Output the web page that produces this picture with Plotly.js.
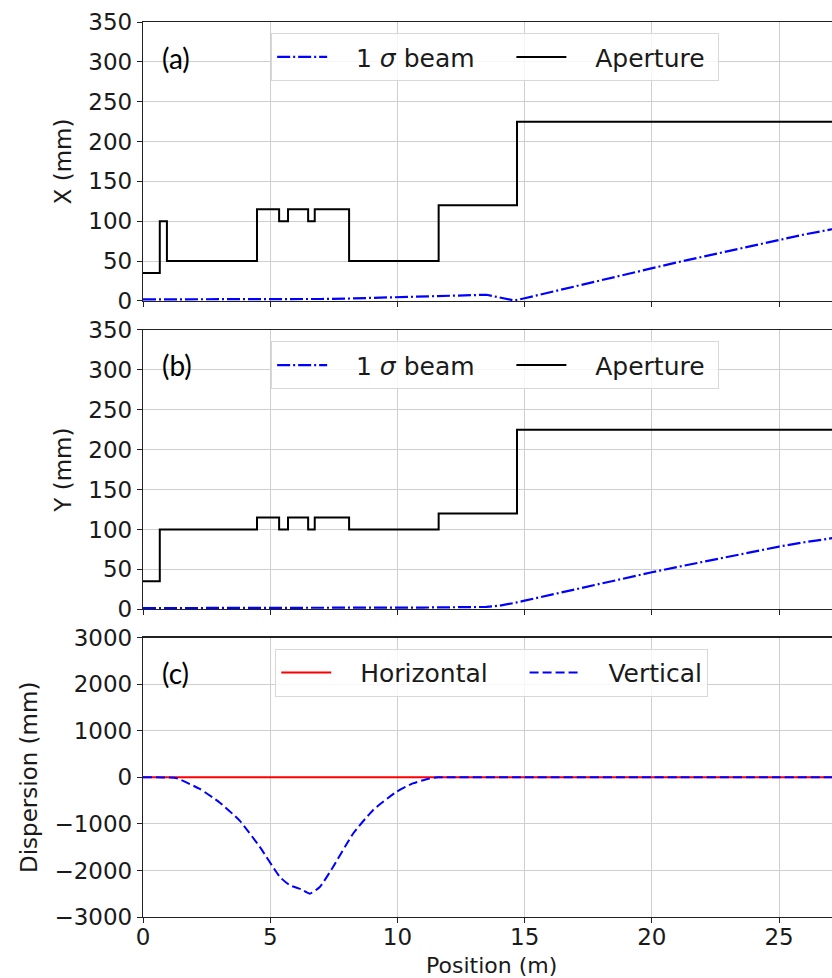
<!DOCTYPE html>
<html>
<head>
<meta charset="utf-8">
<script src="https://cdn.plot.ly/plotly-3.0.1.min.js"></script>
<style>
html,body{margin:0;padding:0;background:#fff;overflow:hidden;}
#chart{width:832px;height:978px;}
</style>
</head>
<body>
<div id="chart"></div>
<script>
// Aperture step positions (m) and half-apertures (mm)
const aperturePos = [0, 0.66, 0.94, 4.48, 5.35, 5.70, 6.49, 6.75, 8.10, 11.62, 14.70, 27.5];
const apertureX   = [35, 100, 50, 115, 100, 115, 100, 115, 50, 120, 225, 225];
const apertureY   = [35, 100, 100, 115, 100, 115, 100, 115, 100, 120, 225, 225];

// 1 sigma beam envelope
const beamPos = [0, 2, 4, 5, 6, 7, 8, 9, 10, 11, 12, 13, 13.5, 14, 14.3, 14.6, 15, 16, 17, 18, 19, 20, 21, 22, 23, 24, 25, 26, 27, 27.5];
const beamX   = [2, 2, 1.8, 1.8, 2, 2.5, 3, 3.8, 4.5, 5.3, 6.3, 7.5, 7.8, 4.5, 2.5, 0.5, 3.4, 11, 18.5, 26, 33.5, 41, 48.5, 55.5, 62.5, 70, 77, 83.5, 89.5, 92.5];
const beamY   = [1.5, 1.5, 1.5, 1.5, 1.5, 1.5, 1.7, 1.8, 2, 2.2, 2.5, 2.8, 3, 4.5, 6, 8, 10.8, 18, 25, 32, 39, 46.4, 53, 59.5, 66, 72.5, 78.6, 84, 88.5, 91];

// Dispersion (mm)
const dispPos  = [0, 0.5, 1, 1.3, 2.23, 3.01, 3.8, 4.59, 5.38, 5.77, 6.2, 6.55, 6.95, 7.47, 8.26, 9.04, 9.96, 10.6, 11.27, 11.6, 15, 20, 25, 27.5];
const dispVert = [0, 0, -5, -15, -250, -540, -930, -1495, -2140, -2318, -2400, -2498, -2355, -1925, -1207, -705, -312, -131, -24, 0, 0, 0, 0, 0];
const dispHorz = [0, 0, 0, 0, 0, 0, 0, 0, 0, 0, 0, 0, 0, 0, 0, 0, 0, 0, 0, 0, 0, 0, 0, 0];

const panelLabels = ['(a)', '(b)', '(c)'];
const yTitles = ['X (mm)', 'Y (mm)', 'Dispersion (mm)'];
const xTitle = 'Position (m)';
const NB = '\u00a0';
const beamName = NB.repeat(3) + '1 <i>σ</i> beam' + NB.repeat(4);
const apertureName = NB.repeat(3) + 'Aperture' + NB;
const horzName = NB.repeat(3) + 'Horizontal' + NB.repeat(4);
const vertName = NB.repeat(3) + 'Vertical';

const FONT = 'DejaVu Sans';
const TXT = '#1a1a1a';
const GRID = '#cfcfcf';
const beamDash = '13px,3px,2px,3px';

const traces = [
  {x: beamPos, y: beamX, xaxis: 'x', yaxis: 'y', mode: 'lines', name: beamName,
   line: {color: '#0000ff', width: 2.2, dash: beamDash}, legend: 'legend'},
  {x: aperturePos, y: apertureX, xaxis: 'x', yaxis: 'y', mode: 'lines', name: apertureName,
   line: {color: '#000000', width: 2, shape: 'hv'}, legend: 'legend'},
  {x: beamPos, y: beamY, xaxis: 'x2', yaxis: 'y2', mode: 'lines', name: beamName,
   line: {color: '#0000ff', width: 2.2, dash: beamDash}, legend: 'legend2'},
  {x: aperturePos, y: apertureY, xaxis: 'x2', yaxis: 'y2', mode: 'lines', name: apertureName,
   line: {color: '#000000', width: 2, shape: 'hv'}, legend: 'legend2'},
  {x: dispPos, y: dispHorz, xaxis: 'x3', yaxis: 'y3', mode: 'lines', name: horzName,
   line: {color: '#ff0000', width: 2}, legend: 'legend3'},
  {x: dispPos, y: dispVert, xaxis: 'x3', yaxis: 'y3', mode: 'lines', name: vertName,
   line: {color: '#0000ff', width: 2, dash: '9px,4px', shape: 'spline', smoothing: 0.5}, legend: 'legend3'}
];

function xax(show, anchor) {
  return {
    anchor: anchor, range: [0, 27.08], dtick: 5, tick0: 0,
    showgrid: true, gridcolor: GRID, gridwidth: 1,
    showline: true, linecolor: '#222', linewidth: 1.2, mirror: true,
    ticks: 'outside', ticklen: 5, tickcolor: '#222', tickwidth: 1,
    showticklabels: show, zeroline: false, ticklabelstandoff: -6,
    tickfont: {family: FONT, size: 23, color: TXT}
  };
}
function yax(range, dtick, dom, title, anchor) {
  return {
    anchor: anchor, domain: dom, range: range, dtick: dtick,
    showgrid: true, gridcolor: GRID, gridwidth: 1,
    showline: true, linecolor: '#222', linewidth: 1.2, mirror: false,
    ticks: 'outside', ticklen: 5, tickcolor: '#222', tickwidth: 1,
    zeroline: false,
    tickfont: {family: FONT, size: 23, color: TXT},
    title: {text: title, font: {family: FONT, size: 23, color: TXT}, standoff: 10}
  };
}

const legendBase = {
  orientation: 'h', xanchor: 'left', yanchor: 'top',
  bgcolor: 'rgba(255,255,255,0.8)', bordercolor: '#d8d8d8', borderwidth: 1,
  font: {family: FONT, size: 25, color: TXT},
  itemwidth: 50, traceorder: 'normal'
};

const layout = {
  width: 832, height: 978,
  margin: {l: 143, r: 0, t: 22, b: 61},
  paper_bgcolor: '#fff', plot_bgcolor: '#fff',
  font: {family: FONT, color: TXT},
  xaxis: xax(false, 'y'),
  xaxis2: xax(false, 'y2'),
  xaxis3: xax(true, 'y3'),
  yaxis: yax([0, 350], 50, [0.6883, 1], yTitles[0], 'x'),
  yaxis2: yax([0, 350], 50, [0.3438, 0.6559], yTitles[1], 'x2'),
  yaxis3: yax([-3000, 3000], 1000, [0, 0.3121], yTitles[2], 'x3'),
  legend: Object.assign({}, legendBase, {x: 0.186, y: 0.9875}),
  legend2: Object.assign({}, legendBase, {x: 0.186, y: 0.6432}),
  legend3: Object.assign({}, legendBase, {x: 0.192, y: 0.2997}),
  annotations: panelLabels.map((t, i) => ({
    text: t, xref: 'paper', yref: 'paper', x: 0.024,
    y: [0.9598, 0.6168, 0.2727][i], xanchor: 'left', yanchor: 'middle', showarrow: false,
    font: {family: 'Lato', size: 28, color: '#000'}
  })).concat([{
    text: xTitle, xref: 'paper', yref: 'paper', x: 0.506, y: -0.0537,
    xanchor: 'center', yanchor: 'middle', showarrow: false,
    font: {family: FONT, size: 22, color: TXT}
  }]),
  showlegend: true
};

Plotly.newPlot('chart', traces, layout, {displayModeBar: false, staticPlot: true});
</script>
</body>
</html>
